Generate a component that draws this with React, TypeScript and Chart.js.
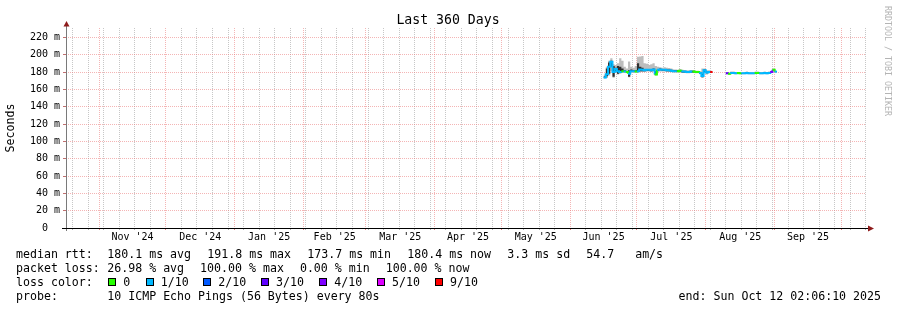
import React, { useEffect, useRef } from 'react';
import { Chart, registerables } from 'chart.js';

Chart.register(...registerables);

const FONT = '"DejaVu Sans Mono", monospace';
const DAY = 86400000;
const END_TIME = Date.UTC(2025, 9, 12, 2, 6, 10);
const SPAN_DAYS = 360;
const START_TIME = END_TIME - SPAN_DAYS * DAY;

const TITLE = 'Last 360 Days';
const Y_TITLE = 'Seconds';
const Y_MAX = 230.8;
const Y_MAJOR = [0, 20, 40, 60, 80, 100, 120, 140, 160, 180, 200, 220];
const Y_MINOR = [10, 30, 50, 70, 90, 110, 130, 150, 170, 190, 210, 230];

// first major (month) grid line: Nov 1 2024; 12 month starts through Oct 1 2025
const FIRST_MONTH_YEAR = 2024;
const FIRST_MONTH_INDEX = 10;
const MONTH_LABELS = ["Nov '24", "Dec '24", "Jan '25", "Feb '25", "Mar '25", "Apr '25", "May '25", "Jun '25", "Jul '25", "Aug '25", "Sep '25"];
const MONTH_LINES = 12;

// daily samples starting Jun 16 2025
const DATA_START = Date.UTC(2025, 5, 16);

const MEDIAN = [
  173.7, 177.5, 186.0, 191.8, 180.0, 183.5, 181.0, 180.0, 181.0, 180.5,
  180.0, 178.0, 181.0, 181.0, 180.5, 181.0, 183.0, 182.5, 182.0, 182.5,
  182.5, 182.0, 183.0, 177.0, 182.5, 183.0, 182.5, 182.5, 182.0, 182.0,
  181.5, 181.0, 181.0, 181.0, 181.5, 180.5, 180.5, 180.0, 180.0, 180.5,
  180.5, 180.0, 180.0, 179.0, 175.5, 182.0, 179.5, 180.0, 180.0, null,
  null, null, null, null, null, 178.5, 178.0, 179.0, 179.0, 178.5,
  179.0, 178.5, 178.5, 178.5, 179.0, 178.5, 178.5, 178.5, 179.0, 179.0,
  178.5, 178.5, 179.0, 178.5, 179.0, 180.0, 182.5, 180.4,
];

const LOSS = [
  1, 1, 1, 1, 1, 1, 1, 1, 0, 1,
  0, 1, 1, 1, 0, 1, 1, 1, 1, 1,
  1, 1, 1, 0, 1, 1, 1, 1, 1, 1,
  1, 1, 1, 0, 0, 1, 1, 1, 1, 1,
  0, 0, 0, 1, 1, 1, 1, 1, 9, 0,
  0, 0, 0, 0, 0, 3, 0, 1, 1, 1,
  0, 0, 1, 1, 1, 1, 1, 1, 0, 0,
  1, 1, 1, 1, 1, 4, 0, 1,
];

const SMOKE_MAX = [
  177, 186, 193, 196, 189, 188, 190, 196, 193, 186,
  184, 192, 186, 185, 187, 197.5, 198, 198.5, 190, 189.5,
  188, 189, 190, 187, 186, 185.5, 185, 185.5, 185, 184.5,
  184, 183, 183, 182.5, 183, 182.5, 182, 182, 182, 182,
  182, 181.5, 181.5, 181, 184, 184, 182, 182, 181.5, null,
  null, null, null, null, null, 180, 179.5, 180.5, 180.5, 180,
  180, 180, 180, 180, 180.5, 180, 180, 180, 180.5, 180.5,
  180, 180, 180.5, 180, 180.5, 181.5, 184, 181.5,
];

const SMOKE_MIN = [
  172.5, 173, 176, 181, 173.5, 179, 177, 178, 179, 179,
  178.5, 174, 179, 179, 179, 179, 180, 180, 180, 180.5,
  180.5, 180, 180.5, 176, 180, 180.5, 180.5, 180.5, 180, 180,
  180, 179.5, 179.5, 179.5, 180, 179, 179, 178.5, 178.5, 179,
  179, 178.5, 178.5, 177.5, 173.5, 179, 177, 178.5, 179, null,
  null, null, null, null, null, 177.5, 177, 178, 178, 177.5,
  178, 177.5, 177.5, 177.5, 178, 177.5, 177.5, 177.5, 178, 178,
  177.5, 177.5, 178, 177.5, 178, 179, 181, 179.5,
];

const CORE_LO = [
  173, 175, 178, 186, 174.5, 181, 178, 179, 180, 180,
  179.5, 174.5, 180, 180, 180, 180, 181, 181, 181, 181.5,
  181.5, 181, 182, 176.5, 181.5, 182, 181.5, 181.5, 181, 181,
  180.5, 180, 180, 180, 180.5, 179.5, 179.5, 179, 179, 179.5,
  179.5, 179, 179, 178, 174, 180, 178.5, 179, 179, null,
  null, null, null, null, null, 178, 177.5, 178.5, 178.5, 178,
  178.5, 178, 178, 178, 178.5, 178, 178, 178, 178.5, 178.5,
  178, 178, 178.5, 178, 178.5, 179.5, 182, 180,
];

const CORE_HI = [
  175, 184, 191, 193, 187, 185, 187, 186, 184, 182,
  181, 182, 183, 182, 182, 190, 186, 185, 183, 183.5,
  183.5, 183, 184, 181, 183.5, 184, 183.5, 183.5, 183, 183,
  182.5, 182, 182, 182, 182.5, 181.5, 181.5, 181, 181, 181.5,
  181.5, 181, 181, 180, 178, 183, 180.5, 181, 181, null,
  null, null, null, null, null, 179, 178.5, 179.5, 179.5, 179,
  179.5, 179, 179, 179, 179.5, 179, 179, 179, 179.5, 179.5,
  179, 179, 179.5, 179, 179.5, 180.5, 183, 181,
];

const LOSS_COLORS: Record<number, string> = {
  0: '#26ff00', 1: '#00b8ff', 2: '#0059ff', 3: '#5e00ff', 4: '#7e00ff', 5: '#dd00ff', 9: '#ff0000',
};
const LEGEND_LOSS = [
  { label: '0', loss: 0 }, { label: '1/10', loss: 1 }, { label: '2/10', loss: 2 }, { label: '3/10', loss: 3 },
  { label: '4/10', loss: 4 }, { label: '5/10', loss: 5 }, { label: '9/10', loss: 9 },
];

const RTT_LINE = ['median rtt:', '180.1 ms avg', '191.8 ms max', '173.7 ms min', '180.4 ms now', '3.3 ms sd', '54.7   am/s'];
const LOSS_LINE = ['packet loss:', '26.98 % avg', '100.00 % max', '0.00 % min', '100.00 % now'];
const PROBE_LINE = ['probe:', '10 ICMP Echo Pings (56 Bytes) every 80s'];
const END_TEXT = 'end: Sun Oct 12 02:06:10 2025';
const WATERMARK = 'RRDTOOL / TOBI OETIKER';

const GRID_MINOR = 'rgba(180,180,180,0.75)';
const GRID_MAJOR = 'rgba(235,120,120,0.55)';

type Pt = { x: number; y: number | null; loss: number };

function buildSteps(values: (number | null)[]): Pt[] {
  const pts: Pt[] = [];
  for (let i = 0; i < values.length; i++) {
    const v = values[i];
    if (v == null) continue;
    const t = DATA_START + i * DAY;
    pts.push({ x: t, y: v, loss: LOSS[i] });
    const next = values[i + 1];
    if (next == null) {
      pts.push({ x: t + DAY, y: v, loss: LOSS[i] });
      pts.push({ x: t + DAY, y: null, loss: LOSS[i] });
    }
  }
  return pts;
}

function monthStart(i: number) {
  return Date.UTC(FIRST_MONTH_YEAR, FIRST_MONTH_INDEX + i, 1);
}

const MONTH_STARTS = Array.from({ length: MONTH_LINES }, (_, i) => monthStart(i));
const LABEL_MAP = new Map<number, string>();
MONTH_LABELS.forEach((lab, i) => {
  LABEL_MAP.set((monthStart(i) + monthStart(i + 1)) / 2, lab);
});
const MONTH_SET = new Set(MONTH_STARTS);

function weeklyTicks() {
  const out: number[] = [];
  const d = new Date(START_TIME);
  let t = Date.UTC(d.getUTCFullYear(), d.getUTCMonth(), d.getUTCDate());
  while (new Date(t).getUTCDay() !== 0 || t < START_TIME) t += DAY;
  for (; t <= END_TIME; t += 7 * DAY) if (!MONTH_SET.has(t)) out.push(t);
  return out;
}

const decorPlugin = {
  id: 'rrdDecor',
  afterDraw(chart: any) {
    const ctx: CanvasRenderingContext2D = chart.ctx;
    const { left, right, top, bottom } = chart.chartArea;
    ctx.save();
    // axes
    ctx.lineWidth = 1;
    ctx.strokeStyle = '#7a7a7a';
    ctx.beginPath();
    ctx.moveTo(left + 0.5, bottom + 3);
    ctx.lineTo(left + 0.5, top - 2);
    ctx.stroke();
    ctx.strokeStyle = '#000';
    ctx.beginPath();
    ctx.moveTo(left - 4, bottom + 0.5);
    ctx.lineTo(right + 2, bottom + 0.5);
    ctx.stroke();
    ctx.fillStyle = '#8e1b1b';
    ctx.beginPath();
    ctx.moveTo(left + 0.5, top - 7);
    ctx.lineTo(left - 2.5, top - 1.5);
    ctx.lineTo(left + 3.5, top - 1.5);
    ctx.closePath();
    ctx.fill();
    ctx.beginPath();
    ctx.moveTo(right + 8, bottom + 0.5);
    ctx.lineTo(right + 2, bottom - 2.5);
    ctx.lineTo(right + 2, bottom + 3.5);
    ctx.closePath();
    ctx.fill();

    // title
    ctx.fillStyle = '#000';
    ctx.font = `13.2px ${FONT}`;
    ctx.textAlign = 'center';
    ctx.textBaseline = 'alphabetic';
    ctx.fillText(TITLE, 448, 24);

    // watermark
    ctx.save();
    ctx.translate(887.5, 6);
    ctx.rotate(Math.PI / 2);
    ctx.font = `8.3px ${FONT}`;
    ctx.fillStyle = '#b4b4b4';
    ctx.textAlign = 'left';
    ctx.textBaseline = 'middle';
    ctx.fillText(WATERMARK, 0, 0);
    ctx.restore();

    // legend
    ctx.font = `11.6px ${FONT}`;
    ctx.fillStyle = '#000';
    ctx.textAlign = 'left';
    ctx.textBaseline = 'alphabetic';
    const rttX = [16, 107.3, 207.3, 307.3, 407.3, 507.3, 586.3];
    RTT_LINE.forEach((s, i) => ctx.fillText(s, rttX[i], 258));
    const lossX = [16, 107.3, 200.1, 299.9, 385.7];
    LOSS_LINE.forEach((s, i) => ctx.fillText(s, lossX[i], 272));
    ctx.fillText('loss color:', 16, 286);
    const boxX = [108.3, 145.7, 203.3, 261, 319.3, 377, 435];
    LEGEND_LOSS.forEach((item, i) => {
      const bx = Math.round(boxX[i]);
      ctx.fillStyle = LOSS_COLORS[item.loss];
      ctx.fillRect(bx, 278, 8, 8);
      ctx.strokeStyle = '#000';
      ctx.strokeRect(bx + 0.5, 278.5, 7, 7);
      ctx.fillStyle = '#000';
      ctx.fillText(item.label, boxX[i] + 15, 286);
    });
    ctx.fillText(PROBE_LINE[0], 16, 300);
    ctx.fillText(PROBE_LINE[1], 107.3, 300);
    ctx.textAlign = 'right';
    ctx.fillText(END_TEXT, 881, 300);
    ctx.restore();
  },
};

export default function App() {
  const ref = useRef<HTMLCanvasElement | null>(null);

  useEffect(() => {
    document.body.style.margin = '0';
    const canvas = ref.current;
    if (!canvas) return;

    const med = buildSteps(MEDIAN);
    const sMax = buildSteps(SMOKE_MAX);
    const sMin = buildSteps(SMOKE_MIN);
    const cLo = buildSteps(CORE_LO);
    const cHi = buildSteps(CORE_HI);

    const base = {
      pointRadius: 0,
      stepped: 'before' as const,
      spanGaps: false,
      borderWidth: 0,
    };

    const chart = new Chart(canvas, {
      type: 'line',
      data: {
        datasets: [
          {
            ...base,
            label: 'median',
            data: med as any,
            borderWidth: 2,
            borderColor: LOSS_COLORS[1],
            fill: false,
            order: 0,
            segment: {
              borderColor: (c: any) => LOSS_COLORS[med[c.p0DataIndex].loss] || LOSS_COLORS[1],
            },
          },
          { ...base, label: 'coreHi', data: cHi as any, borderColor: 'rgba(0,0,0,0)', backgroundColor: '#303030', fill: '+1', order: 1 },
          { ...base, label: 'coreLo', data: cLo as any, borderColor: 'rgba(0,0,0,0)', fill: false, order: 1 },
          { ...base, label: 'smokeMax', data: sMax as any, borderColor: 'rgba(0,0,0,0)', backgroundColor: '#bdbdbd', fill: '+1', order: 2 },
          { ...base, label: 'smokeMin', data: sMin as any, borderColor: 'rgba(0,0,0,0)', fill: false, order: 2 },
        ],
      },
      plugins: [decorPlugin],
      options: {
        animation: false,
        responsive: false,
        events: [],
        layout: { padding: { top: 28, right: 31, bottom: 0, left: 0 } },
        plugins: { legend: { display: false }, title: { display: false }, tooltip: { enabled: false } },
        scales: {
          x: {
            type: 'linear',
            min: START_TIME,
            max: END_TIME,
            afterBuildTicks: (scale: any) => {
              const vals = [...weeklyTicks(), ...MONTH_STARTS.filter((t) => t <= END_TIME), ...LABEL_MAP.keys()];
              vals.sort((a, b) => a - b);
              scale.ticks = vals.map((v) => ({ value: v }));
            },
            afterFit: (scale: any) => {
              scale.height = 82;
            },
            border: { display: false, dash: [1, 1] },
            grid: {
              drawTicks: true,
              tickLength: 2,
              color: (c: any) => {
                const v = c.tick?.value;
                if (LABEL_MAP.has(v)) return 'rgba(0,0,0,0)';
                return MONTH_SET.has(v) ? GRID_MAJOR : GRID_MINOR;
              },
              tickColor: (c: any) => {
                const v = c.tick?.value;
                if (LABEL_MAP.has(v)) return 'rgba(0,0,0,0)';
                return MONTH_SET.has(v) ? '#e08080' : '#b0b0b0';
              },
            },
            ticks: {
              autoSkip: false,
              maxRotation: 0,
              minRotation: 0,
              padding: 1,
              color: '#000',
              font: { family: FONT, size: 10 },
              callback: (v: any) => LABEL_MAP.get(Number(v)) ?? '',
            },
          },
          y: {
            type: 'linear',
            min: 0,
            max: Y_MAX,
            afterBuildTicks: (scale: any) => {
              const vals = [...Y_MAJOR, ...Y_MINOR].sort((a, b) => a - b);
              scale.ticks = vals.map((v) => ({ value: v }));
            },
            afterFit: (scale: any) => {
              scale.width = 66;
            },
            border: { display: false, dash: [1, 1] },
            title: {
              display: true,
              text: Y_TITLE,
              color: '#000',
              font: { family: FONT, size: 11.6 },
              padding: { top: 4, bottom: 0 },
            },
            grid: {
              drawTicks: true,
              tickLength: 3,
              color: (c: any) => (Y_MAJOR.includes(c.tick?.value) ? GRID_MAJOR : GRID_MINOR),
              tickColor: (c: any) => (Y_MAJOR.includes(c.tick?.value) ? '#c07070' : 'rgba(0,0,0,0)'),
            },
            ticks: {
              padding: 3,
              color: '#000',
              font: { family: FONT, size: 10 },
              callback: (v: any) => {
                const n = Number(v);
                if (!Y_MAJOR.includes(n)) return '';
                return n === 0 ? '0  ' : `${n} m`;
              },
            },
          },
        },
      },
    } as any);

    return () => chart.destroy();
  }, []);

  return (
    <div style={{ width: 897, height: 310 }}>
      <canvas ref={ref} width={897} height={310} style={{ display: 'block', width: 897, height: 310 }} />
    </div>
  );
}
